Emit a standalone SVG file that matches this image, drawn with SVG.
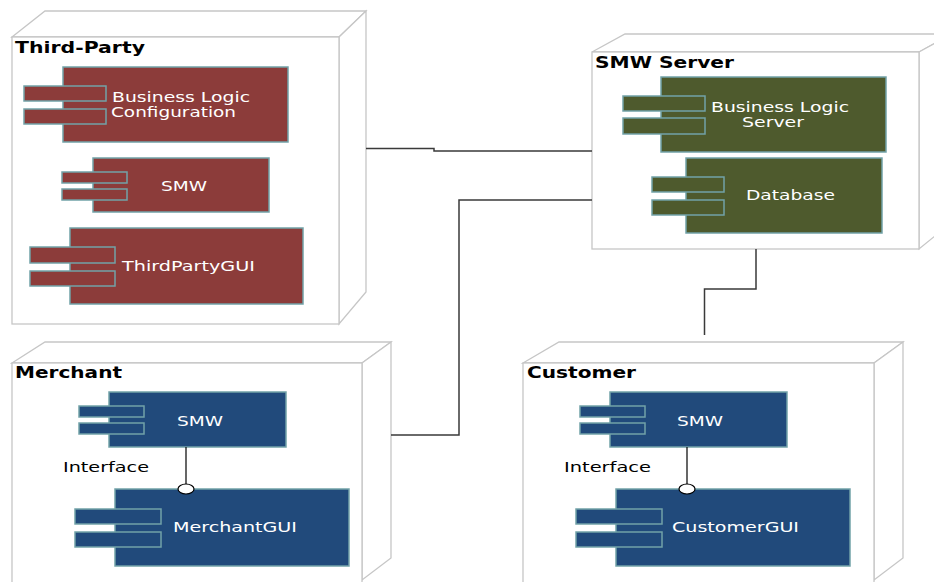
<svg xmlns="http://www.w3.org/2000/svg" width="934" height="582" viewBox="0 0 934 582">
<style>
.box{fill:#fff;stroke:#c6c6c6;stroke-width:1.3}
.red{fill:#8c3c3a;stroke:#72a2a8;stroke-width:1.5}
.grn{fill:#4e5a2d;stroke:#72a2a8;stroke-width:1.5}
.blu{fill:#214a7b;stroke:#72a2a8;stroke-width:1.5}
.title{font-family:"DejaVu Sans",Verdana,sans-serif;font-weight:bold;font-size:15px;fill:#000}
.lbl{font-family:"DejaVu Sans",Verdana,sans-serif;font-size:14px;fill:#fff}
.lblk{font-family:"DejaVu Sans",Verdana,sans-serif;font-size:14px;fill:#000}
.conn{fill:none;stroke:#3a3a3a;stroke-width:1.5}
.iface{fill:#fff;stroke:#000;stroke-width:1.2}
</style>

<g id="third-party">
  <polygon class="box" points="12,37 45,11 366,11 339,37"/>
  <polygon class="box" points="339,37 366,11 366,292 339,324"/>
  <rect class="box" x="12" y="37" width="327" height="287"/>
  <text class="title" x="15" y="53" textLength="130" lengthAdjust="spacingAndGlyphs">Third-Party</text>
  <g id="tp-blc">
    <rect class="red" x="63" y="67" width="225" height="75"/>
    <rect class="red" x="24" y="86" width="82" height="15"/>
    <rect class="red" x="24" y="109" width="82" height="15"/>
    <text class="lbl" x="112" y="102" textLength="138" lengthAdjust="spacingAndGlyphs">Business Logic</text>
    <text class="lbl" x="111" y="117" textLength="125" lengthAdjust="spacingAndGlyphs">Configuration</text>
  </g>
  <g id="tp-smw">
    <rect class="red" x="93" y="158" width="176" height="54"/>
    <rect class="red" x="62" y="172" width="65" height="11"/>
    <rect class="red" x="62" y="189" width="65" height="11"/>
    <text class="lbl" x="161" y="191" textLength="46" lengthAdjust="spacingAndGlyphs">SMW</text>
  </g>
  <g id="tp-gui">
    <rect class="red" x="70" y="228" width="233" height="76"/>
    <rect class="red" x="30" y="247" width="85" height="16"/>
    <rect class="red" x="30" y="271" width="85" height="15"/>
    <text class="lbl" x="122" y="271" textLength="133" lengthAdjust="spacingAndGlyphs">ThirdPartyGUI</text>
  </g>
</g>

<g id="smw-server">
  <polygon class="box" points="592,52 625,34 952,34 919,52"/>
  <polygon class="box" points="919,52 952,34 952,222 919,249"/>
  <rect class="box" x="592" y="52" width="327" height="197"/>
  <text class="title" x="595" y="68" textLength="139" lengthAdjust="spacingAndGlyphs">SMW Server</text>
  <g id="srv-bls">
    <rect class="grn" x="661" y="77" width="225" height="75"/>
    <rect class="grn" x="623" y="96" width="82" height="15"/>
    <rect class="grn" x="623" y="118" width="82" height="16"/>
    <text class="lbl" x="711" y="112" textLength="138" lengthAdjust="spacingAndGlyphs">Business Logic</text>
    <text class="lbl" x="742" y="127" textLength="62" lengthAdjust="spacingAndGlyphs">Server</text>
  </g>
  <g id="srv-db">
    <rect class="grn" x="686" y="158" width="196" height="75"/>
    <rect class="grn" x="652" y="177" width="72" height="15"/>
    <rect class="grn" x="652" y="200" width="72" height="15"/>
    <text class="lbl" x="746" y="200" textLength="89" lengthAdjust="spacingAndGlyphs">Database</text>
  </g>
</g>

<g id="merchant">
  <polygon class="box" points="12,363 45,342 391,342 362,363"/>
  <polygon class="box" points="362,363 391,342 391,558 362,580"/>
  <rect class="box" x="12" y="363" width="350" height="230"/>
  <text class="title" x="15" y="378" textLength="107" lengthAdjust="spacingAndGlyphs">Merchant</text>
  <g id="m-smw">
    <rect class="blu" x="109" y="392" width="177" height="55"/>
    <rect class="blu" x="79" y="406" width="65" height="11"/>
    <rect class="blu" x="79" y="423" width="65" height="11"/>
    <text class="lbl" x="177" y="426" textLength="46" lengthAdjust="spacingAndGlyphs">SMW</text>
  </g>
  <text class="lblk" x="63" y="472" textLength="86" lengthAdjust="spacingAndGlyphs">Interface</text>
  <g id="m-gui">
    <rect class="blu" x="115" y="489" width="234" height="77"/>
    <rect class="blu" x="75" y="509" width="86" height="15"/>
    <rect class="blu" x="75" y="532" width="86" height="15"/>
    <text class="lbl" x="173" y="532" textLength="124" lengthAdjust="spacingAndGlyphs">MerchantGUI</text>
  </g>
  <line x1="186" y1="447" x2="186" y2="484" stroke="#000" stroke-width="1.2"/>
  <ellipse class="iface" cx="186" cy="489" rx="8" ry="5"/>
</g>

<g id="customer">
  <polygon class="box" points="523,363 559,342 903,342 874,363"/>
  <polygon class="box" points="874,363 903,342 903,558 874,580"/>
  <rect class="box" x="523" y="363" width="351" height="230"/>
  <text class="title" x="527" y="378" textLength="109" lengthAdjust="spacingAndGlyphs">Customer</text>
  <g id="c-smw">
    <rect class="blu" x="610" y="392" width="177" height="55"/>
    <rect class="blu" x="580" y="406" width="65" height="11"/>
    <rect class="blu" x="580" y="423" width="65" height="11"/>
    <text class="lbl" x="677" y="426" textLength="46" lengthAdjust="spacingAndGlyphs">SMW</text>
  </g>
  <text class="lblk" x="564" y="472" textLength="87" lengthAdjust="spacingAndGlyphs">Interface</text>
  <g id="c-gui">
    <rect class="blu" x="616" y="489" width="234" height="77"/>
    <rect class="blu" x="576" y="509" width="86" height="15"/>
    <rect class="blu" x="576" y="532" width="86" height="15"/>
    <text class="lbl" x="672" y="532" textLength="127" lengthAdjust="spacingAndGlyphs">CustomerGUI</text>
  </g>
  <line x1="687" y1="447" x2="687" y2="484" stroke="#000" stroke-width="1.2"/>
  <ellipse class="iface" cx="687" cy="489" rx="8" ry="5"/>
</g>

<g id="connectors">
  <polyline class="conn" points="366,148.5 434,148.5 434,151 592,151"/>
  <polyline class="conn" points="391,435 459,435 459,200 592,200"/>
  <polyline class="conn" points="756,249 756,289 704.5,289 704.5,335"/>
</g>
</svg>
